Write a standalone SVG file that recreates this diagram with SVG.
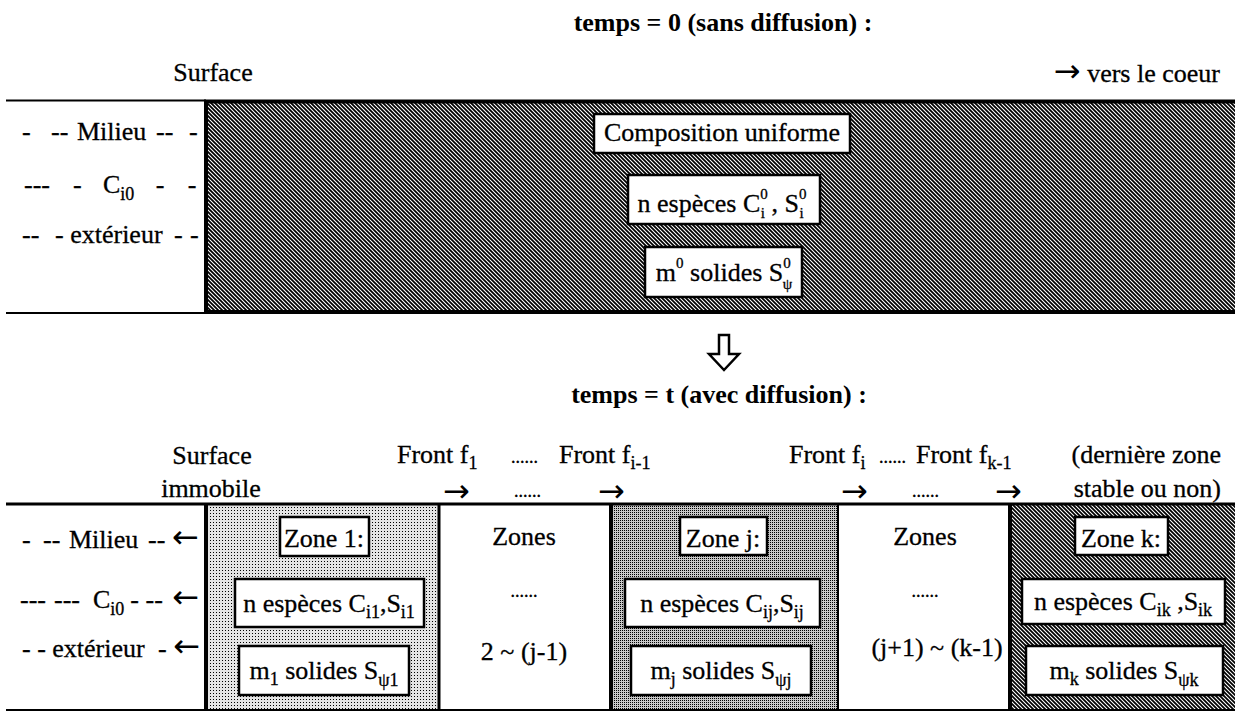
<svg xmlns="http://www.w3.org/2000/svg" width="1235" height="714" viewBox="0 0 1235 714">
<style>
  text { font-family: "Liberation Serif", "Times New Roman", serif; font-size: 26px; fill: #000; stroke: #000; stroke-width: 0.3; }
  .b { font-weight: bold; stroke-width: 0; }
  .s { font-size: 18px; }
  .ss { font-size: 15px; }
  .m { text-anchor: middle; }
  .e { text-anchor: end; }
  .ar { font-family: "DejaVu Sans", sans-serif; font-size: 32px; stroke-width: 0; }
  .dots { font-size: 18px; }
  .box { fill: #fff; stroke: #000; stroke-width: 2.5; }
  .thin { stroke: #000; stroke-width: 2; fill: none; }
  .thick { stroke: #000; stroke-width: 4; fill: none; }
  .mid { stroke: #000; stroke-width: 3; fill: none; }
</style>
<defs>
  <pattern id="hatch" patternUnits="userSpaceOnUse" width="4" height="4">
    <rect width="4" height="4" fill="#fff"/>
    <path d="M-1,-1 L5,5 M-1,3 L1,5 M3,-1 L5,1" stroke="#000" stroke-width="1.75"/>
  </pattern>
  <pattern id="dotmed" patternUnits="userSpaceOnUse" width="2" height="2">
    <rect width="2" height="2" fill="#c8c8c8"/>
    <rect width="1" height="1" fill="#000"/>
  </pattern>
  <pattern id="dotlight" patternUnits="userSpaceOnUse" width="3" height="3">
    <rect width="3" height="3" fill="#e4e4e4"/>
    <rect width="1" height="1" fill="#000"/>
  </pattern>
</defs>
<rect width="1235" height="714" fill="#fff"/>

<!-- ===== temps = 0 ===== -->
<g id="title-t0"><text class="b m" x="723" y="31">temps = 0 (sans diffusion) :</text></g>
<g id="label-surface-t0"><text class="m" x="213" y="81">Surface</text></g>
<g id="label-coeur"><text class="e" x="1220" y="82"><tspan class="ar">→</tspan> vers le coeur</text></g>

<g id="panel-t0">
  <rect x="206" y="100" width="1031" height="213" fill="url(#hatch)"/>
  <line class="thin" x1="6" y1="100.5" x2="206" y2="100.5"/>
  <line class="thin" x1="6" y1="313" x2="206" y2="313"/>
  <line class="thick" x1="204" y1="101.5" x2="1235" y2="101.5"/>
  <line class="thick" x1="204" y1="312" x2="1235" y2="312"/>
  <line class="thick" x1="206" y1="100" x2="206" y2="314"/>
</g>

<g id="milieu-t0">
  <text x="22" y="140">- <tspan dx="13.8">--</tspan> <tspan dx="2.2">Milieu</tspan> <tspan dx="3.2">--</tspan> <tspan dx="9.2">-</tspan></text>
  <text x="24" y="193">--- <tspan dx="16.5">-</tspan> <tspan dx="14.8">C</tspan><tspan class="s" dy="7">i0</tspan><tspan dy="-7"> </tspan><tspan dx="15">-</tspan> <tspan dx="16.8">-</tspan></text>
  <text x="22" y="243">-- <tspan dx="9.2">-</tspan> <tspan>extérieur</tspan> <tspan dx="4.9">-</tspan> <tspan dx="0.8">-</tspan></text>
</g>

<g id="box-composition">
  <rect class="box" x="594" y="114" width="256" height="39"/>
  <text class="m" x="722" y="141">Composition uniforme</text>
</g>
<g id="box-especes-t0">
  <rect class="box" x="628" y="175" width="192" height="49"/>
  <text class="m" x="722" y="212">n espèces C<tspan class="ss" dy="-13">0</tspan><tspan class="ss" dx="-7" dy="19">i</tspan><tspan dy="-6"> , S</tspan><tspan class="ss" dy="-13">0</tspan><tspan class="ss" dx="-7" dy="19">i</tspan></text>
</g>
<g id="box-solides-t0">
  <rect class="box" x="645" y="247" width="157" height="50"/>
  <text class="m" x="724" y="281">m<tspan class="ss" dy="-13">0</tspan><tspan dy="13"> solides S</tspan><tspan class="ss" dy="-13">0</tspan><tspan class="ss" dx="-8" dy="21">ψ</tspan></text>
</g>

<!-- ===== transition ===== -->
<g id="connectors">
  <polygon points="719,335 729,335 729,354 739,354 724,370 709,354 719,354" fill="#fff" stroke="#000" stroke-width="2.5" stroke-linejoin="miter"/>
</g>

<!-- ===== temps = t ===== -->
<g id="title-t"><text class="b m" x="719" y="403">temps = t (avec diffusion) :</text></g>

<g id="header-t">
  <text class="m" x="212" y="464">Surface</text>
  <text class="m" x="211" y="497">immobile</text>
  <text x="397" y="463">Front f<tspan class="s" dy="6">1</tspan></text>
  <text class="dots" x="511" y="463">......</text>
  <text x="559" y="463">Front f<tspan class="s" dy="6">i-1</tspan></text>
  <text x="789" y="463">Front f<tspan class="s" dy="6">i</tspan></text>
  <text class="dots" x="879" y="463">......</text>
  <text x="916" y="463">Front f<tspan class="s" dy="6">k-1</tspan></text>
  <text class="e" x="1221" y="463">(dernière zone</text>
  <text class="e" x="1221" y="497">stable ou non)</text>
  <text class="ar" x="443" y="502">→</text>
  <text class="dots" x="514" y="497">......</text>
  <text class="ar" x="598" y="502">→</text>
  <text class="ar" x="841" y="502">→</text>
  <text class="dots" x="912" y="497">......</text>
  <text class="ar" x="995" y="502">→</text>
</g>

<g id="milieu-t">
  <text x="22" y="548">- <tspan dx="5.8">--</tspan> <tspan dx="2.2">Milieu</tspan> <tspan dx="3.2">--</tspan> <tspan class="ar" dx="0.2">←</tspan></text>
  <text x="20" y="608">--- <tspan dx="1.5">---</tspan> <tspan dx="6.5">C</tspan><tspan class="s" dy="7">i0</tspan><tspan dy="-7" dx="6">-</tspan> --<tspan> </tspan><tspan class="ar" dx="3">←</tspan></text>
  <text x="22" y="657">- - extérieur <tspan dx="6.8">-</tspan> <tspan class="ar">←</tspan></text>
</g>

<g id="zones-fill">
  <rect x="206" y="504" width="233" height="206" fill="url(#dotlight)"/>
  <rect x="611" y="504" width="227" height="206" fill="url(#dotmed)"/>
  <rect x="1010" y="504" width="226" height="206" fill="url(#hatch)"/>
  <line class="mid" x1="6" y1="504" x2="1235" y2="504"/>
  <line class="thin" x1="6" y1="710" x2="1235" y2="710"/>
  <line class="thick" x1="206" y1="503" x2="206" y2="711"/>
  <line class="mid" x1="439" y1="503" x2="439" y2="711"/>
  <line class="thick" x1="611" y1="503" x2="611" y2="711"/>
  <line class="thin" x1="838" y1="503" x2="838" y2="711"/>
  <line class="thick" x1="1010" y1="503" x2="1010" y2="711"/>
</g>

<g id="zone-1">
  <rect class="box" x="280" y="517" width="89" height="39"/>
  <text class="m" x="324" y="547">Zone 1:</text>
  <rect class="box" x="235" y="579" width="189" height="48"/>
  <text class="m" x="329" y="612">n espèces C<tspan class="s" dy="6">i1</tspan><tspan dy="-6">,S</tspan><tspan class="s" dy="6">i1</tspan></text>
  <rect class="box" x="239" y="646" width="170" height="49"/>
  <text class="m" x="324" y="679">m<tspan class="s" dy="6">1</tspan><tspan dy="-6"> solides S</tspan><tspan class="s" dy="7">ψ1</tspan></text>
</g>

<g id="zones-2-j-1">
  <text class="m" x="524" y="545">Zones</text>
  <text class="m dots" x="524" y="597">......</text>
  <text class="m" x="524" y="660">2 ~ (j-1)</text>
</g>

<g id="zone-j">
  <rect class="box" x="680" y="517" width="87" height="38"/>
  <text class="m" x="723" y="547">Zone j:</text>
  <rect class="box" x="625" y="579" width="195" height="48"/>
  <text class="m" x="722" y="612">n espèces C<tspan class="s" dy="6">ij</tspan><tspan dy="-6">,S</tspan><tspan class="s" dy="6">ij</tspan></text>
  <rect class="box" x="631" y="646" width="180" height="49"/>
  <text class="m" x="721" y="679">m<tspan class="s" dy="6">j</tspan><tspan dy="-6"> solides S</tspan><tspan class="s" dy="7">ψj</tspan></text>
</g>

<g id="zones-j1-k1">
  <text class="m" x="925" y="545">Zones</text>
  <text class="m dots" x="925" y="597">......</text>
  <text class="m" x="937" y="656">(j+1) ~ (k-1)</text>
</g>

<g id="zone-k">
  <rect class="box" x="1075" y="517" width="93" height="38"/>
  <text class="m" x="1121" y="547">Zone k:</text>
  <rect class="box" x="1022" y="579" width="203" height="45"/>
  <text class="m" x="1123" y="610">n espèces C<tspan class="s" dy="6">ik</tspan><tspan dy="-6"> ,S</tspan><tspan class="s" dy="6">ik</tspan></text>
  <rect class="box" x="1026" y="646" width="197" height="49"/>
  <text class="m" x="1124" y="679">m<tspan class="s" dy="6">k</tspan><tspan dy="-6"> solides S</tspan><tspan class="s" dy="7">ψk</tspan></text>
</g>
</svg>
